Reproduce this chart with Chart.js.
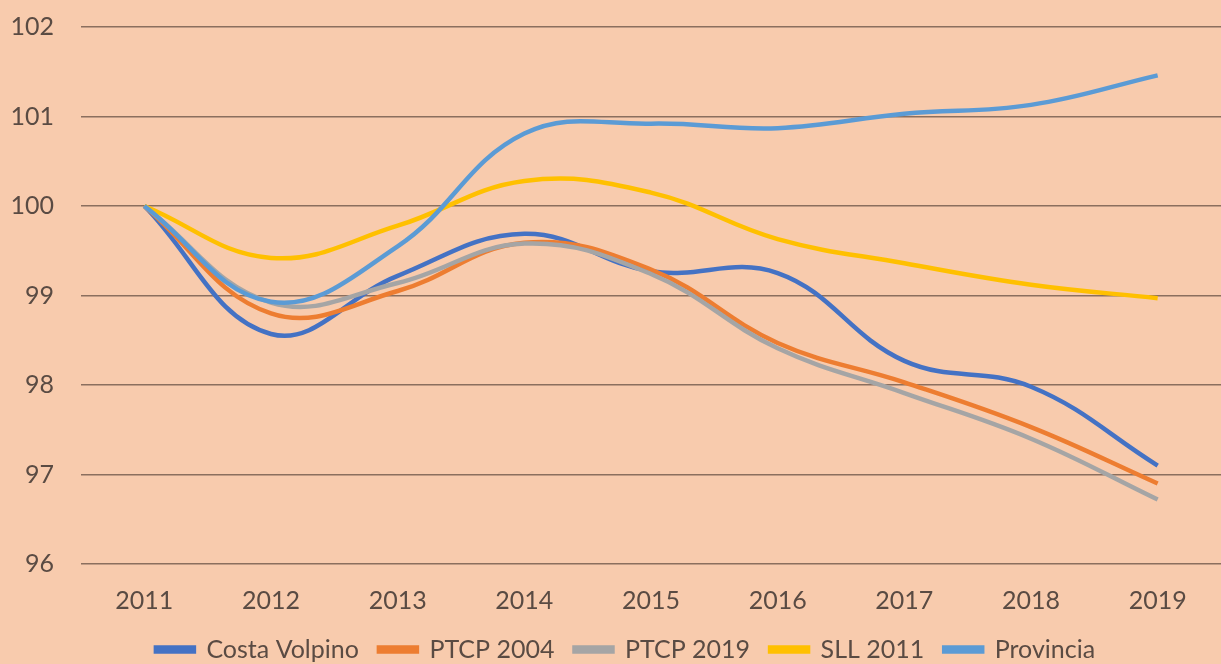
<!DOCTYPE html>
<html>
<head>
<meta charset="utf-8">
<script src="https://cdn.jsdelivr.net/npm/chart.js@4/dist/chart.umd.min.js"></script>
<style>
  html, body { margin: 0; padding: 0; background: #F8CBAD; }
  #wrap { width: 1221px; height: 664px; }
</style>
</head>
<body>
<div id="wrap"><canvas id="myChart" width="1221" height="664"></canvas></div>
<script>
//Data_
const years = ['2011', '2012', '2013', '2014', '2015', '2016', '2017', '2018', '2019'];
const costaVolpino = [100, 98.57, 99.22, 99.69, 99.27, 99.25, 98.27, 97.98, 97.10];
const ptcp2004 = [100, 98.80, 99.05, 99.59, 99.29, 98.47, 98.03, 97.53, 96.90];
const ptcp2019 = [100, 98.92, 99.14, 99.58, 99.24, 98.41, 97.91, 97.40, 96.72];
const sll2011 = [100, 99.42, 99.78, 100.28, 100.15, 99.63, 99.36, 99.12, 98.97];
const provincia = [100, 98.93, 99.55, 100.81, 100.92, 100.87, 101.03, 101.13, 101.46];
const yMin = 96;
const yMax = 102;

//Variables_
const graph = document.getElementById('myChart');
const textColor = '#5a4b43';
const fontFamily = 'Lato, "Open Sans", sans-serif';

function serie(label, values, color, order) {
    return {
        label: label,
        data: values,
        borderColor: color,
        backgroundColor: color,
        borderWidth: 4.5,
        pointRadius: 0,
        tension: 0.4,
        fill: false,
        order: order
    };
}

const data = {
    labels: years,
    datasets: [
        serie('Costa Volpino', costaVolpino, '#4472C4', 4),
        serie('PTCP 2004', ptcp2004, '#ED7D31', 3),
        serie('PTCP 2019', ptcp2019, '#A5A5A5', 2),
        serie('SLL 2011', sll2011, '#FFC000', 1),
        serie('Provincia', provincia, '#5B9BD5', 0)
    ]
};

// legend sits a bit right of centre in the original
const shiftLegend = {
    id: 'shiftLegend',
    afterLayout(chart) {
        chart.legend.left += 15;
        chart.legend.right += 15;
    }
};

const config = {
    type: 'line',
    data: data,
    plugins: [shiftLegend],
    options: {
        responsive: false,
        animation: false,
        layout: { padding: { top: 27, left: 0, right: 0, bottom: -8 } },
        plugins: {
            tooltip: { enabled: false },
            legend: {
                position: 'bottom',
                labels: {
                    sort: (a, b) => a.datasetIndex - b.datasetIndex,
                    boxWidth: 38,
                    boxHeight: 4,
                    padding: 20,
                    color: textColor,
                    font: { family: fontFamily, size: 25 }
                }
            }
        },
        scales: {
            x: {
                offset: true,
                grid: { display: false, drawTicks: false },
                border: { display: false },
                ticks: {
                    color: textColor,
                    padding: 22,
                    font: { family: fontFamily, size: 25 }
                },
                afterFit: (scale) => { scale.height = 53; }
            },
            y: {
                min: yMin,
                max: yMax,
                grid: { color: 'rgba(120, 95, 80, 0.85)', lineWidth: 1.5, drawTicks: false },
                border: { display: false },
                ticks: {
                    stepSize: 1,
                    color: textColor,
                    padding: 27,
                    font: { family: fontFamily, size: 25 }
                },
                afterFit: (scale) => {
                    scale.width = 81;
                    scale.paddingTop = 0;
                    scale.paddingBottom = 0;
                }
            }
        }
    }
};

//Graph
const chart = new Chart(graph, config);
</script>
</body>
</html>
